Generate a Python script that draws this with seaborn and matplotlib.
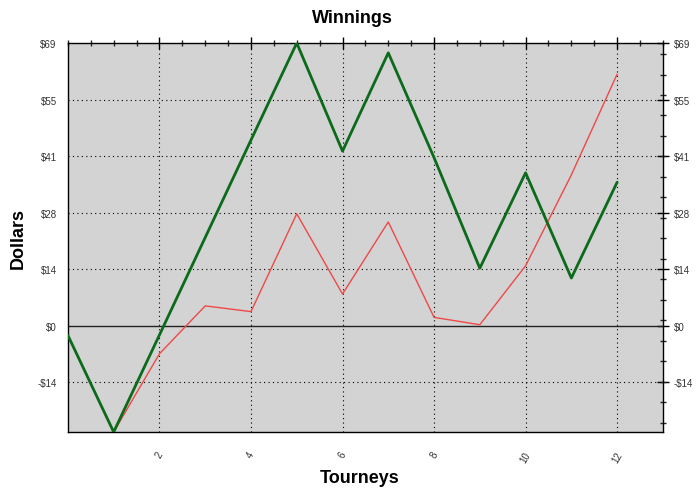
import numpy as np
import pandas as pd
import matplotlib
matplotlib.use("Agg")
import matplotlib.pyplot as plt
import seaborn as sns
from matplotlib.ticker import FixedLocator, MultipleLocator

# values
green_x = [0, 1, 2, 3, 4, 5, 6, 7, 8, 9, 10, 11, 12]
green_y = [-2.4, -26, -2.3, 21.5, 45.3, 69, 42.6, 66.6, 41, 14, 37.3, 11.6, 35]
red_x = [1, 2, 3, 4, 5, 6, 7, 8, 9, 10, 11, 12]
red_y = [-26, -6.9, 4.8, 3.4, 27.3, 7.7, 25.3, 2.0, 0.2, 14.6, 36.8, 61.4]

y_ticks = [-13.8, 0, 13.8, 27.6, 41.4, 55.2, 69]
y_labels = ["-$14", "$0", "$14", "$28", "$41", "$55", "$69"]
x_ticks = [2, 4, 6, 8, 10, 12]

sns.set_style("white")
plt.rcParams['font.family'] = ['Liberation Sans', 'DejaVu Sans']
plt.rcParams['text.color'] = 'black'
plt.rcParams['axes.labelcolor'] = 'black'

fig = plt.figure(figsize=(7, 4.89), dpi=100)
ax = fig.add_axes([0.097, 0.1145, 0.85, 0.7955])
ax.set_facecolor("#d3d3d3")

green = pd.DataFrame({"x": green_x, "y": green_y})
red = pd.DataFrame({"x": red_x, "y": red_y})

# grid lines first so the data sits on top
for v in x_ticks:
    ax.axvline(v, color="black", linestyle=(0, (1, 3)), linewidth=0.8, zorder=1)
for v in y_ticks:
    if v == 0:
        ax.axhline(v, color="#222222", linewidth=1.0, zorder=1)
    else:
        ax.axhline(v, color="black", linestyle=(0, (1, 3)), linewidth=0.8, zorder=1)

sns.lineplot(data=red, x="x", y="y", ax=ax, color="#f04848", linewidth=1.0, zorder=3)
sns.lineplot(data=green, x="x", y="y", ax=ax, color="#0b6b1a", linewidth=2.0, zorder=4)

ax.set_xlim(0, 13)
ax.set_ylim(-26, 69)

ax.set_yticks(y_ticks)
ax.set_yticklabels(y_labels)
ax.yaxis.set_minor_locator(FixedLocator(np.arange(-23.7, 69, 5)))
ax.set_xticks(x_ticks)
ax.set_xticklabels([str(v) for v in x_ticks], rotation=60)
ax.xaxis.set_minor_locator(MultipleLocator(0.5))

ax.tick_params(axis="both", which="major", direction="inout", length=9, width=1,
               labelsize=7, colors="black", labelcolor="#333333",
               top=True, right=True, labelright=True)
ax.tick_params(axis="both", which="minor", direction="inout", length=5, width=1,
               top=True, right=True)
ax.tick_params(axis="x", which="major", pad=8)

for s in ax.spines.values():
    s.set_color("black")
    s.set_linewidth(1)

fig.text(0.503, 0.962, "Winnings", fontsize=13, fontweight="bold",
         ha="center", va="center", color="black")
ax.set_xlabel("Tourneys", fontsize=13, fontweight="bold", labelpad=4, x=0.49)
ax.set_ylabel("Dollars", fontsize=13, fontweight="bold", labelpad=8)

fig.savefig("out.png", dpi=100)
